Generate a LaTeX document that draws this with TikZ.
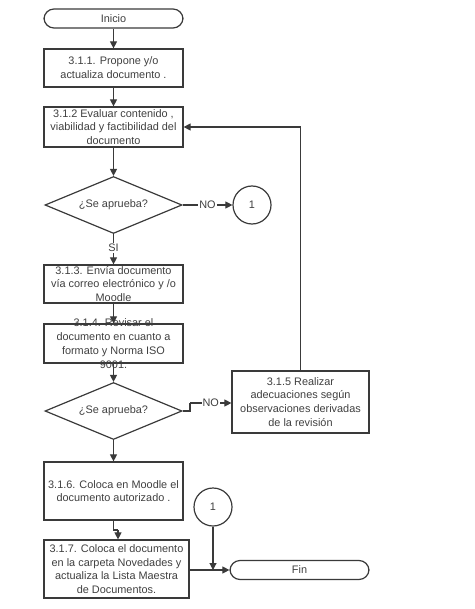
\documentclass[tikz,border=0pt]{standalone}
\usepackage{fontspec}
\setmainfont{Liberation Sans}
\usetikzlibrary{shapes.geometric,arrows.meta}
\definecolor{ln}{HTML}{3A3A3A}
\definecolor{tx}{HTML}{404040}
\begin{document}
\begin{tikzpicture}[x=1pt,y=-1pt,
  every node/.style={font=\fontsize{10.9}{13.8}\selectfont,text=tx,align=center},
  boxst/.style={draw=ln,line width=1.2pt,rectangle,inner sep=0pt},
  termst/.style={draw=ln,line width=1.2pt,rectangle,rounded corners=10pt,minimum width=139pt,minimum height=19pt,inner sep=0pt},
  decst/.style={draw=ln,line width=1.2pt,diamond,minimum width=137pt,minimum height=57pt,inner sep=0pt},
  conn/.style={draw=ln,line width=1.2pt,circle,minimum size=38pt,inner sep=0pt},
  arr/.style={draw=ln,line width=1.1pt,-{Triangle[length=7pt,width=7pt]}},
  ln/.style={draw=ln,line width=1.1pt},
  lab/.style={fill=white,inner sep=1pt}]
\useasboundingbox (0,0) rectangle (474,609);
\node[termst] (ini) at (113.5,18.5) {Inicio};
\node[boxst,minimum width=139pt,minimum height=38pt] (b1) at (113.5,68) {3.1.1. Propone y/o\\actualiza documento .};
\node[boxst,minimum width=139pt,minimum height=40pt] (b2) at (113.5,127) {3.1.2 Evaluar contenido ,\\viabilidad y factibilidad del\\documento};
\node[decst] (d1) at (113.5,205) {};
\node at (d1) {¿Se aprueba?};
\node[conn] (c1) at (252,205) {1};
\node[boxst,minimum width=139pt,minimum height=38pt] (b3) at (113.5,284) {3.1.3. Envía documento\\vía correo electrónico y /o\\Moodle};
\node[boxst,minimum width=139pt,minimum height=39pt] (b4) at (113.5,343.5) {};
\node at (b4) {3.1.4. Revisar el\\documento en cuanto a\\formato y Norma ISO\\9001.};
\node[decst] (d2) at (113.5,411) {};
\node at (d2) {¿Se aprueba?};
\node[boxst,minimum width=137pt,minimum height=62pt] (b5) at (300.5,402) {3.1.5 Realizar\\adecuaciones  según\\observaciones derivadas\\de la revisión};
\node[boxst,minimum width=139pt,minimum height=58pt] (b6) at (113.5,491) {3.1.6. Coloca en Moodle el\\documento autorizado .};
\node[boxst,minimum width=145pt,minimum height=58pt] (b7) at (116.5,569) {3.1.7. Coloca el documento\\en la carpeta Novedades  y\\actualiza la Lista Maestra\\de Documentos.};
\node[conn] (c2) at (213,507) {1};
\node[termst] (fin) at (299.5,570) {Fin};
\coordinate (j1) at (190,411);
\coordinate (j2) at (190,403);
\coordinate (up) at (300.5,127);
\coordinate (k1) at (113.5,530);
\coordinate (k2) at (118,530);
\coordinate (m) at (213,570);
\draw[arr] (ini) -- (b1);
\draw[arr] (b1) -- (b2);
\draw[arr] (b2) -- (d1);
\draw[arr] (d1.east) -- node[lab]{NO} (c1);
\draw[arr] (d1.south) -- node[lab,pos=0.45]{SI} (b3.north);
\draw[arr] (b3) -- (b4);
\draw[arr] (b4) -- (d2);
\draw[ln] (d2.east) -- (j1) -- (j2);
\draw[arr] (j2) -- node[lab]{NO} (b5.west |- j2);
\draw[ln] (b5.north) -- (up);
\draw[arr] (up) -- (b2.east);
\draw[arr] (d2.south) -- (b6.north);
\draw[ln] (b6.south) -- (k1) -- (k2);
\draw[arr] (k2) -- (b7.north -| k2);
\draw[arr] (b7.east |- fin) -- (fin.west);
\draw[arr] (c2.south) -- (m);
\end{tikzpicture}
\end{document}
